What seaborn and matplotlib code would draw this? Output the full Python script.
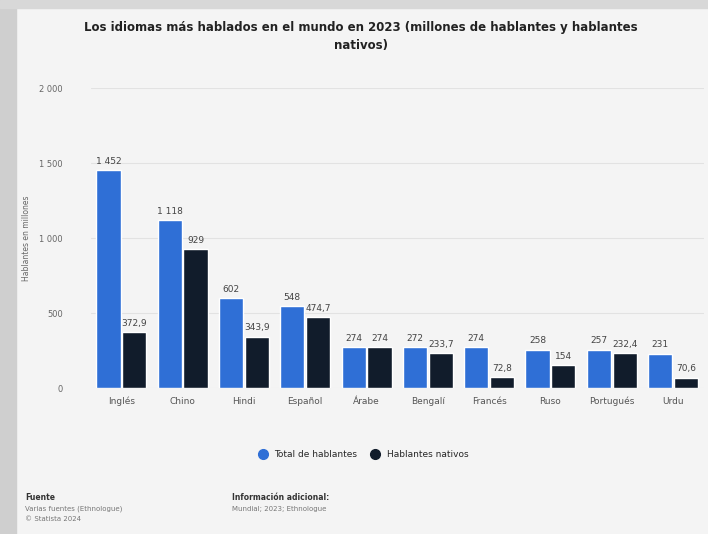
import matplotlib
matplotlib.use("Agg")
import matplotlib.pyplot as plt
import seaborn as sns
import pandas as pd
from matplotlib.patches import Rectangle
from matplotlib.lines import Line2D

idiomas = ["Inglés", "Chino", "Hindi", "Español", "Árabe", "Bengalí", "Francés", "Ruso", "Portugués", "Urdu"]
total = [1452, 1118, 602, 548, 274, 272, 274, 258, 257, 231]
nativos = [372.9, 929, 343.9, 474.7, 274, 233.7, 72.8, 154, 232.4, 70.6]
total_lbl = ["1 452", "1 118", "602", "548", "274", "272", "274", "258", "257", "231"]
nativos_lbl = ["372,9", "929", "343,9", "474,7", "274", "233,7", "72,8", "154", "232,4", "70,6"]
series = ["Total de hablantes", "Hablantes nativos"]
colors = ["#2f6fd6", "#111c2b"]
yticks = [0, 500, 1000, 1500, 2000]
ytick_lbl = ["0", "500", "1 000", "1 500", "2 000"]

df = pd.DataFrame({
    "idioma": idiomas * 2,
    "valor": total + nativos,
    "serie": [series[0]] * len(idiomas) + [series[1]] * len(idiomas),
})

sns.set_theme(style="white")
plt.rcParams['font.family'] = ['DejaVu Sans']

fig = plt.figure(figsize=(7.08, 5.34), dpi=100)
fig.patch.set_facecolor("#f4f4f4")
# card shadow edges
fig.add_artist(Rectangle((0, 0), 0.022, 1, transform=fig.transFigure, color="#cfcfcf", zorder=-5))
fig.add_artist(Rectangle((0, 0.985), 1, 0.015, transform=fig.transFigure, color="#d8d8d8", zorder=-5))

ax = fig.add_axes([0.128, 0.273, 0.866, 0.562])
ax.set_facecolor("#f4f4f4")
sns.barplot(data=df, x="idioma", y="valor", hue="serie", palette=colors,
            width=0.84, gap=0.06, saturation=1, ax=ax, legend=False, zorder=3)

ax.set_ylim(0, 2000)
ax.set_yticks(yticks)
ax.set_yticklabels(ytick_lbl, fontsize=6, color="#666666")
ax.tick_params(axis="x", labelsize=6.5, colors="#555555", length=0, pad=6)
ax.tick_params(axis="y", length=0, pad=20)
ax.grid(axis="y", color="#e2e2e2", linewidth=0.8, zorder=0)
for s in ax.spines.values():
    s.set_visible(False)
ax.set_xlabel("")
ax.set_ylabel("Hablantes en millones", fontsize=5.5, color="#666666", labelpad=6)

for cont, labels in zip(ax.containers, [total_lbl, nativos_lbl]):
    ax.bar_label(cont, labels=labels, fontsize=6.5, color="#444444", padding=3)

fig.text(0.51, 0.942, "Los idiomas más hablados en el mundo en 2023 (millones de hablantes y hablantes",
         ha="center", fontsize=8.5, fontweight="bold", color="#222222")
fig.text(0.51, 0.909, "nativos)", ha="center", fontsize=8.5, fontweight="bold", color="#222222")

handles = [Line2D([0], [0], marker="o", linestyle="", markersize=7, markerfacecolor=c, markeredgecolor=c)
           for c in colors]
fig.legend(handles, series, loc="center", bbox_to_anchor=(0.51, 0.148), ncol=2, frameon=False,
           fontsize=6.5, handletextpad=0.3, columnspacing=1.0)

fig.text(0.035, 0.063, "Fuente", fontsize=5.5, fontweight="bold", color="#333333")
fig.text(0.035, 0.044, "Varias fuentes (Ethnologue)", fontsize=5, color="#777777")
fig.text(0.035, 0.025, "© Statista 2024", fontsize=5, color="#777777")
fig.text(0.328, 0.063, "Información adicional:", fontsize=5.5, fontweight="bold", color="#333333")
fig.text(0.328, 0.044, "Mundial; 2023; Ethnologue", fontsize=5, color="#777777")

fig.savefig("out.png", dpi=100, facecolor=fig.get_facecolor())
